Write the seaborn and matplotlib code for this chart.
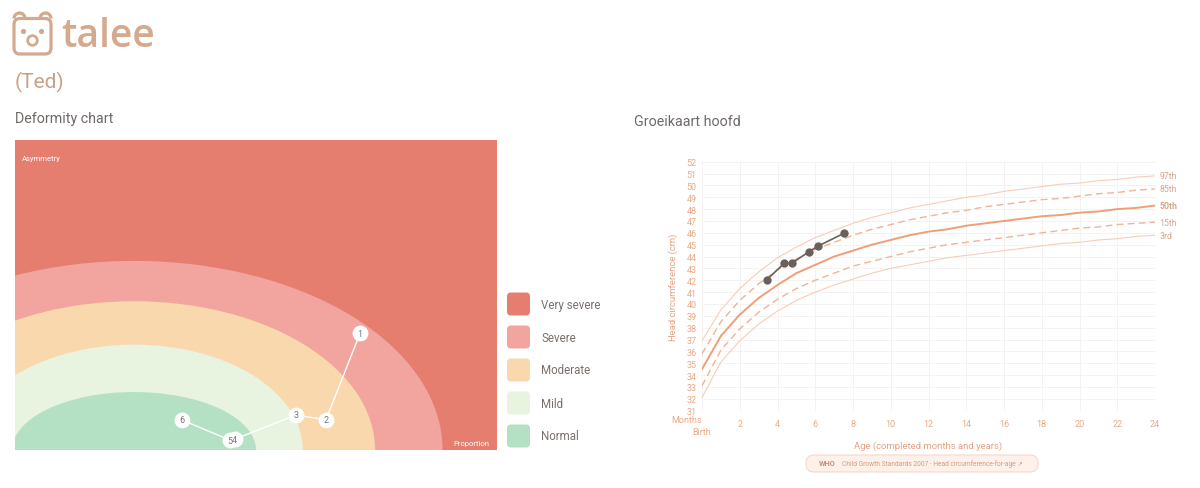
import numpy as np
import pandas as pd
import seaborn as sns
import matplotlib.pyplot as plt
from matplotlib.patches import Ellipse, FancyBboxPatch, Circle, Arc

sns.set_theme(style='white')
plt.rcParams['font.family'] = ['Roboto', 'DejaVu Sans']

# deformity chart data
band_names = ['Very severe', 'Severe', 'Moderate', 'Mild', 'Normal']
band_colors = ['#E67E70', '#F1A59E', '#F9D8AE', '#E8F3E0', '#B4E1C3']
ring_x_radius = [64, 50, 35, 25.3]      # Severe, Moderate, Mild, Normal
ring_y_radius = [61, 48, 34, 18.7]
ring_center = 24.7
visit_labels = ['1', '2', '3', '4', '5', '6']
visit_prop = [71.6, 64.5, 58.3, 45.6, 44.6, 34.6]
visit_asym = [37.7, 9.7, 11.3, 3.5, 3.2, 9.7]

# head circumference (WHO boys) data
months = list(range(0, 25))
p3 = [32.1, 35.1, 36.9, 38.3, 39.4, 40.3, 41.0, 41.6, 42.1, 42.6, 43.0, 43.3, 43.6,
      43.9, 44.1, 44.3, 44.5, 44.7, 44.9, 45.1, 45.2, 45.4, 45.5, 45.7, 45.8]
p15 = [33.1, 36.1, 37.9, 39.3, 40.4, 41.3, 42.0, 42.6, 43.2, 43.6, 44.0, 44.4, 44.7,
       45.0, 45.2, 45.4, 45.6, 45.8, 46.0, 46.2, 46.4, 46.5, 46.7, 46.8, 46.9]
p50 = [34.5, 37.3, 39.1, 40.5, 41.6, 42.6, 43.3, 44.0, 44.5, 45.0, 45.4, 45.8, 46.1,
       46.3, 46.6, 46.8, 47.0, 47.2, 47.4, 47.5, 47.7, 47.8, 48.0, 48.1, 48.3]
p85 = [35.8, 38.5, 40.3, 41.7, 42.9, 43.8, 44.6, 45.2, 45.8, 46.3, 46.7, 47.1, 47.4,
       47.7, 47.9, 48.2, 48.4, 48.6, 48.8, 48.9, 49.1, 49.3, 49.4, 49.6, 49.7]
p97 = [36.9, 39.5, 41.3, 42.7, 43.9, 44.8, 45.6, 46.2, 46.8, 47.3, 47.7, 48.1, 48.4,
       48.7, 49.0, 49.2, 49.5, 49.7, 49.9, 50.1, 50.2, 50.4, 50.5, 50.7, 50.8]
child_age = [3.43, 4.36, 4.75, 5.67, 6.13, 7.52]
child_hc = [42.05, 43.43, 43.43, 44.41, 44.87, 45.96]

tan = '#D4A98D'

fig = plt.figure(figsize=(12, 4.89), dpi=100)

# overlay in pixel coordinates for header, legend, badge
ov = fig.add_axes([0, 0, 1, 1])
ov.set_xlim(0, 1200)
ov.set_ylim(489, 0)
ov.axis('off')

# bear logo
ov.add_patch(FancyBboxPatch((14, 19.5), 37, 35.5, boxstyle='round,pad=0,rounding_size=6',
                            fill=False, ec=tan, lw=2.3))
ov.add_patch(Arc((19.5, 19.5), 11, 11, theta1=180, theta2=360, ec=tan, lw=2.3))
ov.add_patch(Arc((45.5, 19.5), 11, 11, theta1=180, theta2=360, ec=tan, lw=2.3))
ov.add_patch(Circle((23.5, 32.5), 1.9, color=tan))
ov.add_patch(Circle((41.5, 32.5), 1.9, color=tan))
ov.add_patch(Circle((32.5, 41.5), 4.8, fill=False, ec=tan, lw=2))
ov.text(61, 37, 'talee', fontsize=28, color=tan, fontweight='semibold',
        family=['Open Sans', 'DejaVu Sans'], va='center', ha='left')
ov.text(15, 82, '(Ted)', fontsize=15, color='#C9A088', va='center', ha='left')
ov.text(15, 119, 'Deformity chart', fontsize=10.3, color='#6f6a68', va='center', ha='left')
ov.text(634, 122, 'Groeikaart hoofd', fontsize=10.3, color='#6f6a68', va='center', ha='left')

# legend
for i, (name, col) in enumerate(zip(band_names, band_colors)):
    yc = 305 + 33 * i
    ov.add_patch(FancyBboxPatch((507, yc - 11.5), 23, 23, boxstyle='round,pad=0,rounding_size=4',
                                fc=col, ec='none'))
    ov.text(541, yc, name, fontsize=8.3, color='#7b6f6c', va='center', ha='left')

# WHO badge
ov.add_patch(FancyBboxPatch((806, 456), 232, 17, boxstyle='round,pad=0,rounding_size=8',
                            fc='#FDF1EA', ec='#F7D9C9', lw=0.8))
ov.text(819, 464.5, 'WHO', fontsize=5.3, color='#C98F74', fontweight='bold', va='center', ha='left')
ov.text(842, 464.5, 'Child Growth Standards 2007 · Head circumference-for-age ↗', fontsize=4.8,
        color='#D49C80', va='center', ha='left')

# deformity chart
ax1 = fig.add_axes([15 / 1200, 38 / 489, 482 / 1200, 310 / 489])
ax1.set_facecolor(band_colors[0])
for xr, yr, col in zip(ring_x_radius, ring_y_radius, band_colors[1:]):
    ax1.add_patch(Ellipse((ring_center, 0), 2 * xr, 2 * yr, fc=col, ec='none'))
visits = pd.DataFrame({'prop': visit_prop, 'asym': visit_asym, 'label': visit_labels})
sns.lineplot(data=visits, x='prop', y='asym', sort=False, color='white', lw=1, ax=ax1)
sns.scatterplot(data=visits, x='prop', y='asym', color='white', s=130, edgecolor='white',
                linewidth=0, ax=ax1, zorder=3)
for _, r in visits.iterrows():
    ax1.text(r.prop, r.asym, r.label, fontsize=6.5, color='#777', ha='center', va='center', zorder=4)
ax1.set_xlim(0, 100)
ax1.set_ylim(0, 100)
ax1.set_xticks([])
ax1.set_yticks([])
ax1.set_xlabel('')
ax1.set_ylabel('')
for s in ax1.spines.values():
    s.set_visible(False)
ax1.text(0.015, 0.935, 'Asymmetry', transform=ax1.transAxes, fontsize=5.5, color='white')
ax1.text(0.985, 0.015, 'Proportion', transform=ax1.transAxes, fontsize=5.5, color='white', ha='right')

# growth chart
ax2 = fig.add_axes([702 / 1200, (489 - 411.7) / 489, 453 / 1200, 249 / 489])
curves = pd.DataFrame({'month': months, '3rd': p3, '15th': p15, '50th': p50, '85th': p85, '97th': p97})
styles = {
    '97th': ('#F7CDB8', 0.8, '-'),
    '85th': ('#F2B295', 1.0, (0, (5, 3))),
    '50th': ('#EF9F78', 1.4, '-'),
    '15th': ('#F2B295', 1.0, (0, (5, 3))),
    '3rd': ('#F7CDB8', 0.8, '-'),
}
for name, (col, lw, ls) in styles.items():
    sns.lineplot(data=curves, x='month', y=name, color=col, lw=lw, linestyle=ls, ax=ax2)
    ax2.text(24.25, curves[name].iloc[-1], name, fontsize=6.3, color='#D6A58C', va='center', ha='left',
             fontweight='bold' if name == '50th' else 'normal', clip_on=False)
sns.lineplot(x=child_age, y=child_hc, color='#6B605C', lw=1.2, marker='o', markersize=6,
             markeredgewidth=0, ax=ax2, zorder=5)
ax2.set_xlim(0, 24)
ax2.set_ylim(31, 52)
ax2.set_xticks(range(0, 25, 2))
ax2.set_xticklabels([''] + [str(m) for m in range(2, 25, 2)])
ax2.set_yticks(range(31, 53))
ax2.grid(True, color='#F3F1F0', lw=0.6)
ax2.tick_params(axis='both', length=0, labelsize=6.5, labelcolor='#E9A987')
ax2.tick_params(axis='y', pad=4)
ax2.tick_params(axis='x', pad=6)
for s in ax2.spines.values():
    s.set_visible(False)
ax2.text(0, -0.036, 'Months', transform=ax2.get_xaxis_transform(), fontsize=6.5, color='#E9A987',
         ha='right', va='center')
ax2.text(0, -0.084, 'Birth', transform=ax2.get_xaxis_transform(), fontsize=6.5, color='#E9A987',
         ha='center', va='center')
ax2.set_xlabel('Age (completed months and years)', fontsize=6.8, color='#E4A282', labelpad=9)
ax2.set_ylabel('Head circumference (cm)', fontsize=6.8, color='#E4A282', labelpad=6)

fig.savefig('out.png', dpi=100)
